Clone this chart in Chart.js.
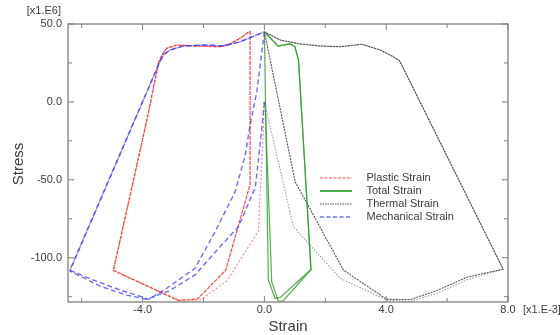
<!DOCTYPE html>
<html><head><meta charset="utf-8">
<script src="https://cdn.jsdelivr.net/npm/chart.js@4/dist/chart.umd.min.js"></script>
<style>html,body{margin:0;padding:0;background:#fff;} #wrap{width:560px;height:335px;position:relative;}</style>
</head><body><div id="wrap"><canvas id="c" width="560" height="335"></canvas></div>
<script>
// ---------- DATA (strain x1E-3, stress x1E6) ----------
const seriesNames = ['Plastic Strain', 'Total Strain', 'Thermal Strain', 'Mechanical Strain'];

// Plastic strain, cycle 1 (starts stress-free) and cycle 2
const plastic1Strain = [-0.02, -0.03, -0.20, -1.24, -2.10, -2.70, -4.96, -3.86, -3.48, -3.37, -3.21, -2.88, -2.22, -1.46, -1.13, -0.80, -0.47];
const plastic1Stress = [0.0, -17.0, -83.0, -115.0, -127.0, -128.0, -108.5, -11.6, 24.8, 30.1, 34.4, 36.5, 35.9, 35.4, 37.2, 40.8, 45.5];
const plastic2Strain = [-0.47, -0.47, -1.27, -2.20, -2.85, -4.96, -3.86, -3.48, -3.37, -3.21, -2.88, -2.22, -1.46, -1.13, -0.80, -0.47];
const plastic2Stress = [45.5, -53.0, -108.0, -126.5, -127.3, -108.0, -11.6, 24.8, 30.1, 34.4, 36.5, 35.9, 35.4, 37.2, 40.8, 45.5];

// Total strain
const total1Strain = [0.02, 0.24, 0.46, 0.62, 1.53, 1.12, 1.00, 0.84, 0.45, 0.00];
const total1Stress = [0.0, -115.4, -128.0, -127.6, -107.5, 26.9, 35.5, 37.2, 35.8, 45.0];
const total2Strain = [0.00, 0.13, 0.35, 0.52, 1.53, 1.12, 1.00, 0.84, 0.45, 0.00];
const total2Stress = [45.0, -114.3, -126.0, -125.4, -107.5, 26.9, 35.5, 37.2, 35.8, 45.0];

// Thermal strain
const thermal1Strain = [0.00, 0.19, 0.95, 2.49, 4.02, 4.80, 5.67, 6.65, 7.84, 4.44, 4.19, 3.80, 3.20, 2.49, 1.83, 1.17, 0.52, 0.00];
const thermal1Stress = [0.0, -15.9, -80.1, -113.2, -127.2, -128.0, -122.8, -114.2, -107.3, 26.4, 29.5, 33.3, 37.0, 35.4, 35.9, 37.2, 39.7, 45.0];
const thermal2Strain = [0.00, 1.01, 2.60, 4.02, 4.80, 5.67, 6.65, 7.84, 4.44, 4.19, 3.80, 3.20, 2.49, 1.83, 1.17, 0.52, 0.00];
const thermal2Stress = [45.0, -51.2, -108.0, -126.7, -126.8, -121.0, -112.5, -107.3, 26.4, 29.5, 33.3, 37.0, 35.4, 35.9, 37.2, 39.7, 45.0];

// Mechanical strain
const mech1Strain = [0.00, -0.10, -0.30, -0.85, -1.60, -2.28, -3.10, -3.86, -4.52, -5.40, -6.39, -3.48, -3.32, -3.10, -2.66, -1.89, -1.35, -0.80, 0.00];
const mech1Stress = [0.0, -20.0, -55.0, -80.0, -96.0, -111.0, -121.0, -126.7, -124.0, -118.2, -108.5, 23.7, 30.1, 33.3, 35.9, 36.5, 35.9, 38.6, 45.0];
const mech2Strain = [0.00, -0.25, -0.47, -0.63, -0.96, -1.62, -2.28, -3.21, -3.80, -3.98, -4.74, -5.62, -6.39, -3.48, -3.32, -3.10, -2.66, -1.89, -1.35, -0.80, 0.00];
const mech2Stress = [45.0, 6.5, -14.8, -34.1, -57.6, -83.3, -106.8, -119.6, -126.8, -125.4, -120.7, -114.3, -108.0, 23.7, 30.1, 33.3, 35.9, 36.5, 35.9, 38.6, 45.0];

// Axes
const xMin = -6.45, xMax = 8.0, yMin = -128.4, yMax = 50.0;
const xMajorTicks = [-4, 0, 4, 8];
const xTickLabels = ['-4.0', '0.0', '4.0', '8.0'];
const xMinorTicks = [-6, -2, 2, 6];
const yMajorTicks = [50, 0, -50, -100];
const yTickLabels = ['50.0', '0.0', '-50.0', '-100.0'];
const yMinorTicks = [25, -25, -75, -125];
const xTitle = 'Strain', yTitle = 'Stress';
const xUnit = '[x1.E-3]', yUnit = '[x1.E6]';

// ---------- STYLES ----------
const RED = 'rgba(255,40,40,0.85)';
const GREEN = 'rgba(50,160,50,0.85)';
const BLACK = 'rgba(40,40,40,0.8)';
const GRAY = 'rgba(90,90,90,0.6)';
const BLUE = 'rgba(60,60,255,0.75)';

function pts(xs, ys) { return xs.map((x, i) => ({ x: x, y: ys[i] })); }
function ds(label, xs, ys, color, width, dash) {
  return { label: label, data: pts(xs, ys), showLine: true, borderColor: color, backgroundColor: color,
    borderWidth: width, borderDash: dash, pointRadius: 0, tension: 0, fill: false };
}

const datasets = [
  ds(seriesNames[3], mech2Strain, mech2Stress, BLUE, 1.4, [5, 3]),
  ds(seriesNames[3], mech1Strain, mech1Stress, BLUE, 1.4, [5, 3]),
  ds(seriesNames[0], plastic2Strain, plastic2Stress, RED, 1.2, [4, 1]),
  ds(seriesNames[0], plastic1Strain, plastic1Stress, 'rgba(255,90,90,0.7)', 1.2, [2, 2]),
  ds(seriesNames[1], total2Strain, total2Stress, GREEN, 1.2, []),
  ds(seriesNames[1], total1Strain, total1Stress, GREEN, 1.2, []),
  ds(seriesNames[2], thermal2Strain, thermal2Stress, BLACK, 1.1, [2, 1]),
  ds(seriesNames[2], thermal1Strain, thermal1Stress, GRAY, 1.1, [1.5, 1.5]),
];

const legendItems = [
  { text: seriesNames[0], color: 'rgba(255,60,60,0.9)', dash: [3, 1.5], width: 1 },
  { text: seriesNames[1], color: GREEN, dash: [], width: 2 },
  { text: seriesNames[2], color: BLACK, dash: [1.5, 1], width: 1 },
  { text: seriesNames[3], color: BLUE, dash: [4, 2.5], width: 1.5 },
];

const FONT = '"Liberation Sans", Arial, sans-serif';
const TEXT = '#3c3c3c';

const decor = {
  id: 'decor',
  afterDraw(chart) {
    const ctx = chart.ctx, a = chart.chartArea;
    const sx = chart.scales.x, sy = chart.scales.y;
    ctx.save();
    // frame
    ctx.strokeStyle = '#808080';
    ctx.lineWidth = 1.3;
    ctx.setLineDash([]);
    ctx.strokeRect(a.left, a.top, a.right - a.left, a.bottom - a.top);
    // ticks (inward, on all sides)
    ctx.lineWidth = 1;
    const tick = (v, len, axis) => {
      ctx.beginPath();
      if (axis === 'x') {
        const p = sx.getPixelForValue(v);
        ctx.moveTo(p, a.bottom); ctx.lineTo(p, a.bottom - len);
        ctx.moveTo(p, a.top); ctx.lineTo(p, a.top + len);
      } else {
        const p = sy.getPixelForValue(v);
        ctx.moveTo(a.left, p); ctx.lineTo(a.left + len, p);
        ctx.moveTo(a.right, p); ctx.lineTo(a.right - len, p);
      }
      ctx.stroke();
    };
    xMajorTicks.forEach(v => tick(v, 6, 'x'));
    xMinorTicks.forEach(v => tick(v, 4, 'x'));
    yMajorTicks.forEach(v => tick(v, 6, 'y'));
    yMinorTicks.forEach(v => tick(v, 4, 'y'));
    // tick labels
    ctx.fillStyle = TEXT;
    ctx.font = '11px ' + FONT;
    ctx.textAlign = 'center'; ctx.textBaseline = 'middle';
    xMajorTicks.forEach((v, i) => ctx.fillText(xTickLabels[i], sx.getPixelForValue(v), a.bottom + 8));
    ctx.textAlign = 'right';
    yMajorTicks.forEach((v, i) => ctx.fillText(yTickLabels[i], a.left - 6, sy.getPixelForValue(v)));
    // units
    ctx.textAlign = 'right';
    ctx.fillText(yUnit, a.left - 7, 11);
    ctx.textAlign = 'left';
    ctx.fillText(xUnit, a.right + 15, a.bottom + 8);
    // titles
    ctx.font = '15px ' + FONT;
    ctx.textAlign = 'center';
    ctx.fillText(xTitle, (a.left + a.right) / 2 + 0, 327);
    ctx.save();
    ctx.translate(19, 164);
    ctx.rotate(-Math.PI / 2);
    ctx.fillText(yTitle, 0, 0);
    ctx.restore();
    // legend
    ctx.font = '11px ' + FONT;
    ctx.textAlign = 'left';
    legendItems.forEach((it, i) => {
      const y = 178 + i * 13;
      ctx.strokeStyle = it.color; ctx.lineWidth = it.width; ctx.setLineDash(it.dash);
      ctx.beginPath(); ctx.moveTo(320, y); ctx.lineTo(352, y); ctx.stroke();
      ctx.setLineDash([]);
      ctx.fillStyle = TEXT;
      ctx.fillText(it.text, 366.5, y);
    });
    ctx.restore();
  }
};

new Chart(document.getElementById('c'), {
  type: 'scatter',
  data: { datasets: datasets },
  options: {
    responsive: false, animation: false,
    layout: { padding: { left: 68, top: 24, right: 52, bottom: 33 } },
    plugins: { legend: { display: false }, tooltip: { enabled: false } },
    scales: {
      x: { type: 'linear', min: xMin, max: xMax, display: false },
      y: { type: 'linear', min: yMin, max: yMax, display: false }
    }
  },
  plugins: [decor]
});
</script>
</body></html>
